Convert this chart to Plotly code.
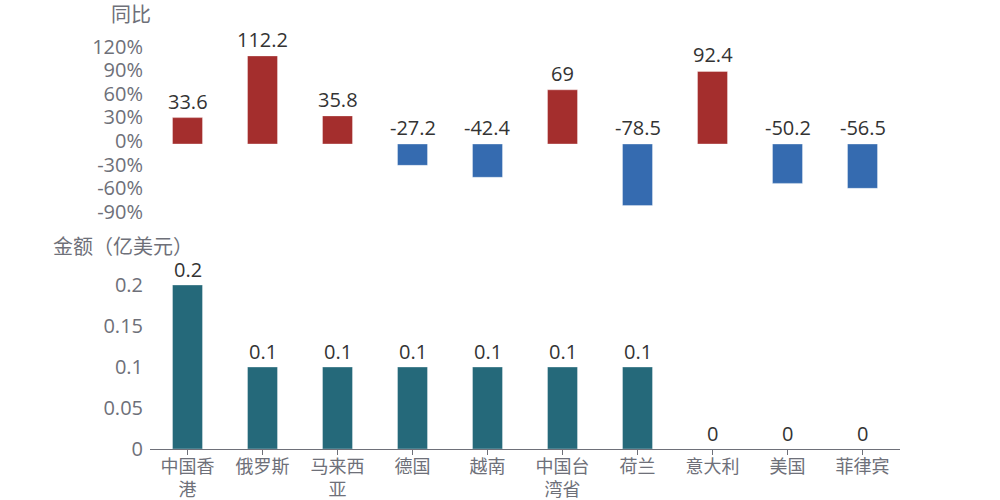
import plotly.graph_objects as go
from plotly.subplots import make_subplots

categories = ["中国香<br>港", "俄罗斯", "马来西<br>亚", "德国", "越南", "中国台<br>湾省", "荷兰", "意大利", "美国", "菲律宾"]
yoy = [33.6, 112.2, 35.8, -27.2, -42.4, 69, -78.5, 92.4, -50.2, -56.5]
amount = [0.2, 0.1, 0.1, 0.1, 0.1, 0.1, 0.1, 0, 0, 0]
yoy_ticks = [-90, -60, -30, 0, 30, 60, 90, 120]
amt_ticks = [0, 0.05, 0.1, 0.15, 0.2]

RED = "#A42E2D"
BLUE = "#356BB0"
TEAL = "#25697A"
GREY = "#6E7079"
FONT = "Open Sans, Noto Sans CJK SC"

fig = make_subplots(rows=2, cols=1, shared_xaxes=True, vertical_spacing=0.0)

fig.add_trace(go.Bar(x=categories, y=yoy, width=0.4,
                     marker=dict(color=[RED if v >= 0 else BLUE for v in yoy],
                                 line=dict(width=1, color="rgba(255,255,255,0.35)")),
                     hoverinfo="skip"), row=1, col=1)
fig.add_trace(go.Bar(x=categories, y=amount, width=0.4,
                     marker=dict(color=TEAL, line=dict(width=1, color="rgba(255,255,255,0.35)")),
                     hoverinfo="skip"), row=2, col=1)

annotations = []
for c, v in zip(categories, yoy):
    annotations.append(dict(x=c, y=max(v, 0), xref="x", yref="y", text=f"{v:g}",
                            showarrow=False, yanchor="bottom", yshift=1,
                            font=dict(size=20, color="#333333", family=FONT)))
for c, v in zip(categories, amount):
    annotations.append(dict(x=c, y=v, xref="x2", yref="y2", text=f"{v:g}",
                            showarrow=False, yanchor="bottom", yshift=0,
                            font=dict(size=20, color="#333333", family=FONT)))

plot_w = 1000 - 150 - 100
plot_h = 500 - 20 - 51
def px2paper(px, py):
    return (px - 150) / plot_w, (449 - py) / plot_h

for txt, px, py in [("同比", 131, 14), ("金额（亿美元）", 123, 247)]:
    ax, ay = px2paper(px, py)
    annotations.append(dict(text=txt, x=ax, y=ay, xref="paper", yref="paper", showarrow=False,
                            xanchor="center", yanchor="middle",
                            font=dict(size=20, color=GREY, family=FONT)))

fig.update_layout(
    width=1000, height=500, showlegend=False,
    paper_bgcolor="white", plot_bgcolor="white",
    margin=dict(l=150, r=100, t=20, b=51, autoexpand=False),
    font=dict(family=FONT, color=GREY, size=18),
    yaxis=dict(domain=[0.522, 0.977], range=[-103.3, 145.4], tickvals=yoy_ticks,
               ticktext=[f"{t}%" for t in yoy_ticks], showgrid=False, zeroline=False,
               showline=False, ticks="", ticklabelstandoff=6, ticklabelshift=-3,
               tickfont=dict(size=20, color=GREY)),
    yaxis2=dict(domain=[0, 0.429], range=[0, 0.2244], tickvals=amt_ticks,
                ticktext=[f"{t:g}" for t in amt_ticks], showgrid=False, zeroline=False,
                showline=False, ticks="", ticklabelstandoff=6, tickfont=dict(size=20, color=GREY)),
    xaxis=dict(showticklabels=False, showline=False, ticks="", showgrid=False, range=[-0.5, 9.5]),
    xaxis2=dict(showline=True, linecolor=GREY, linewidth=1, ticks="outside", ticklen=5,
                tickcolor=GREY, showgrid=False,
                tickfont=dict(size=18, color=GREY, family="Noto Sans CJK SC"),
                range=[-0.5, 9.5], automargin=False, tickangle=0, ticklabelstandoff=-4),
    annotations=annotations,
)
fig.update_yaxes(automargin=False)

fig.write_html("out.html")
